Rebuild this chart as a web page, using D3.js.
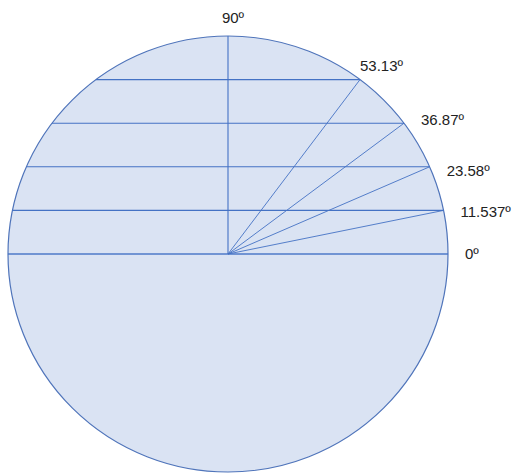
<!DOCTYPE html>
<html>
<head>
<meta charset="utf-8">
<script src="https://cdn.jsdelivr.net/npm/d3@7"></script>
<style>
  html, body { margin: 0; padding: 0; background: #fff; }
  svg { display: block; }
  text { font-family: "Liberation Sans", Arial, sans-serif; font-size: 15px; fill: #222; }
</style>
</head>
<body>
<svg id="chart" width="514" height="473"></svg>
<script>
// Data: angles (degrees) and their sines (chord heights as fraction of radius)
const angles = [0, 11.537, 23.58, 36.87, 53.13, 90];
const angleLabels = ["0º", "11.537º", "23.58º", "36.87º", "53.13º", "90º"];
const chordHeights = [0, 0.2, 0.4, 0.6, 0.8];

const svg = d3.select("#chart");
const cx = 228, cy = 254, rx = 220, ry = 218;

// scales: x in [-1,1] unit circle coords, y in [-1,1]
const x = d3.scaleLinear().domain([-1, 1]).range([cx - rx, cx + rx]);
const y = d3.scaleLinear().domain([-1, 1]).range([cy + ry, cy - ry]);

const stroke = "#4472C4";

svg.append("ellipse")
  .attr("cx", x(0)).attr("cy", y(0))
  .attr("rx", x(1) - x(0)).attr("ry", y(0) - y(1))
  .attr("fill", "#DAE3F3")
  .attr("stroke", "#4F74BA")
  .attr("stroke-width", 1.2);

// horizontal chords
svg.selectAll("line.chord").data(chordHeights).join("line")
  .attr("class", "chord")
  .attr("x1", d => x(-Math.sqrt(1 - d * d)))
  .attr("x2", d => x(Math.sqrt(1 - d * d)))
  .attr("y1", d => y(d)).attr("y2", d => y(d))
  .attr("stroke", stroke)
  .attr("stroke-width", d => d === 0 ? 1.8 : 1.1)
  .attr("stroke-opacity", d => d === 0 ? 0.7 : 1);

// radial lines
const rad = a => a * Math.PI / 180;
svg.selectAll("line.ray").data(angles.filter(a => a > 0)).join("line")
  .attr("class", "ray")
  .attr("x1", x(0)).attr("y1", y(0))
  .attr("x2", a => x(Math.cos(rad(a))))
  .attr("y2", a => y(Math.sin(rad(a))))
  .attr("stroke", stroke)
  .attr("stroke-width", a => a === 90 ? 1.1 : 0.9);

// labels
svg.selectAll("text.lbl").data(angles).join("text")
  .attr("class", "lbl")
  .attr("x", (a, i) => {
    const px = x(Math.cos(rad(a)));
    if (a === 90) return px + 5;
    if (a > 45) return px;
    return px + 17;
  })
  .attr("y", (a, i) => {
    const py = y(Math.sin(rad(a)));
    if (a === 90) return py - 13;
    if (a > 45) return py - 9;
    if (a > 30) return py + 2;
    return py + 5 + a * 0.17;
  })
  .attr("text-anchor", a => a === 90 ? "middle" : "start")
  .text((a, i) => angleLabels[i]);
</script>
</body>
</html>
